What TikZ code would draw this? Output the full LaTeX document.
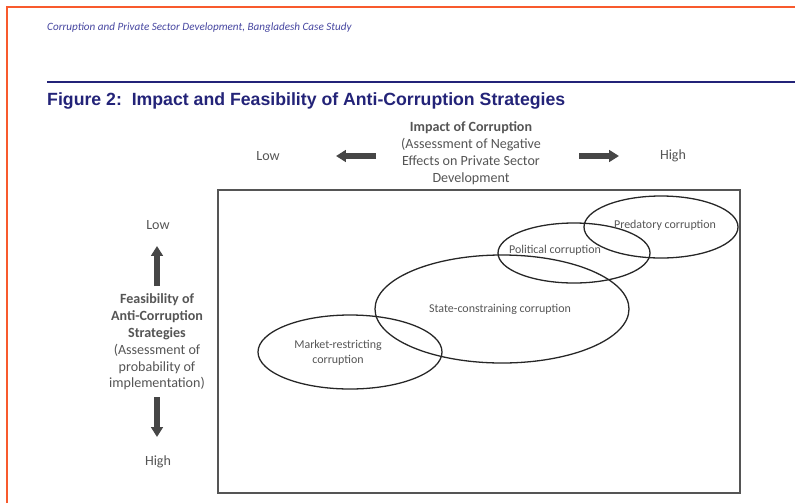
\documentclass[tikz,border=0pt]{standalone}
\usepackage{fontspec}
\setmainfont{Carlito}
\newfontfamily\arialfont{Liberation Sans}
\usetikzlibrary{arrows.meta}

\definecolor{pageedge}{RGB}{248,90,45}
\definecolor{headblue}{RGB}{70,70,160}
\definecolor{navy}{RGB}{35,35,120}
\definecolor{txtgray}{RGB}{85,85,85}
\definecolor{arrowgray}{RGB}{70,70,70}

\begin{document}
\begin{tikzpicture}[x=0.03cm,y=-0.03cm,
  lbl/.style={font=\fontsize{12}{14.4}\selectfont, text=txtgray, align=center, inner sep=0pt},
  zonelbl/.style={lbl, font=\fontsize{10.2}{12.4}\selectfont},
  blockarrow/.style={draw=arrowgray, line width=4.3pt, -{Triangle[length=8.5pt,width=10pt]}},
  zone/.style={draw=black!85, line width=1.1pt}]
\useasboundingbox (0,0) rectangle (795,503);

% page frame and heading
\draw[pageedge, line width=1.8pt] (7,503) -- (7,7) -- (795,7);
\node[anchor=west, inner sep=0pt, text=headblue, font=\itshape\fontsize{9.5}{11}\selectfont] (running) at (47,28)
  {Corruption and Private Sector Development, Bangladesh Case Study};
\draw[navy, line width=2.4pt] (47,82) -- (795,82);
\node[anchor=west, inner sep=0pt, text=navy, font=\arialfont\bfseries\fontsize{15.1}{16}\selectfont] (title) at (47,101)
  {Figure 2:\ \ Impact and Feasibility of Anti-Corruption Strategies};

% horizontal axis
\node[lbl] (impact) at (471,153) {\textbf{Impact of Corruption}\\(Assessment of Negative\\Effects on Private Sector\\Development};
\node[lbl] (lowx) at (268,156) {Low};
\node[lbl] (highx) at (673,156) {High};
\coordinate (lxa) at (376,156);
\coordinate (lxb) at (336,156);
\coordinate (hxa) at (579,156);
\coordinate (hxb) at (619,156);

% vertical axis
\node[lbl] (feas) at (157,342) {\textbf{Feasibility of}\\\textbf{Anti-Corruption}\\\textbf{Strategies}\\(Assessment of\\probability of\\implementation)};
\node[lbl] (lowy) at (158,225) {Low};
\node[lbl] (highy) at (158,462) {High};
\coordinate (lya) at (157,286);
\coordinate (lyb) at (157,246);
\coordinate (hya) at (157,397);
\coordinate (hyb) at (157,437);

\foreach \from/\to in {lxa/lxb, hxa/hxb, lya/lyb, hya/hyb}
	\draw[blockarrow] (\from) -- (\to);

% plot area
\draw[draw=txtgray, line width=1.6pt] (218,190) rectangle (740,493);

\coordinate (mkt) at (350,352);
\coordinate (state) at (502,309);
\coordinate (pol) at (574,253);
\coordinate (pred) at (661,227);

\foreach \c/\rx/\ry in {mkt/92/37, state/127/54, pol/76/30, pred/77/31}
	\draw[zone] (\c) ellipse [x radius=\rx, y radius=\ry];

\node[zonelbl] (mktlbl) at (338,353) {Market-restricting\\corruption};
\node[zonelbl] (statelbl) at (500,309) {State-constraining corruption};
\node[zonelbl] (pollbl) at (555,250) {Political corruption};
\node[zonelbl] (predlbl) at (665,225) {Predatory corruption};
\end{tikzpicture}
\end{document}
